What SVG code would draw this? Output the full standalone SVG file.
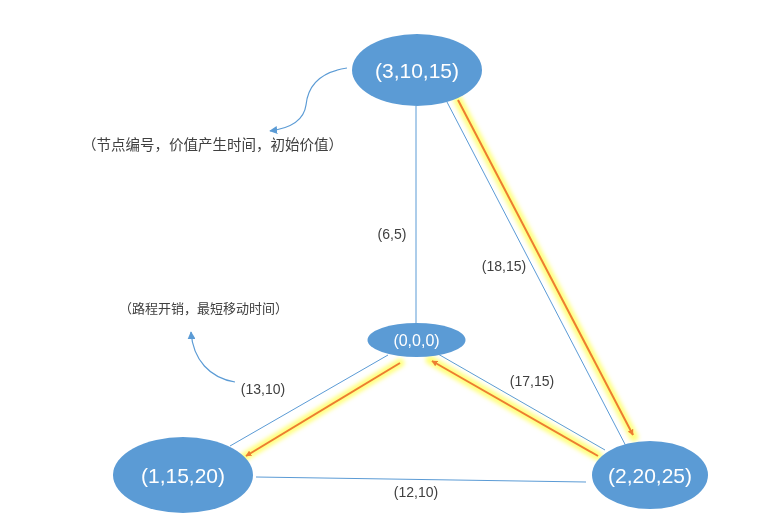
<svg xmlns="http://www.w3.org/2000/svg" width="758" height="526" viewBox="0 0 758 526">
<style>
.node{fill:#5b9bd5}
.nt{fill:#ffffff;font-family:"Liberation Sans",Arial,sans-serif;text-anchor:middle;dominant-baseline:central}
.edge{stroke:#5b9bd5;stroke-width:1;fill:none}
.glow{stroke:#ffff66;stroke-width:9;fill:none;stroke-linecap:round;opacity:0.85}
.path{stroke:#ed7d31;stroke-width:2;fill:none}
.lbl{fill:#404040;font-family:"Liberation Sans",Arial,sans-serif;font-size:14px;text-anchor:middle;dominant-baseline:central}
.note{fill:#404040;font-family:"Liberation Sans","Noto Sans CJK SC",sans-serif;dominant-baseline:central}
.callout{stroke:#5b9bd5;stroke-width:1.2;fill:none}
</style>
<defs>
<filter id="blur" x="-20%" y="-20%" width="140%" height="140%"><feGaussianBlur stdDeviation="2"/></filter>
<marker id="oa" viewBox="0 0 10 10" refX="9" refY="5" markerWidth="6" markerHeight="6" orient="auto" markerUnits="userSpaceOnUse"><path d="M0,0 L10,5 L0,10 z" fill="#ed7d31"/></marker>
<marker id="ba" viewBox="0 0 10 10" refX="9" refY="5" markerWidth="8" markerHeight="8" orient="auto" markerUnits="userSpaceOnUse"><path d="M0,0 L10,5 L0,10 z" fill="#5b9bd5"/></marker>
</defs>
<g id="connectors">
<line class="edge" x1="416" y1="106" x2="416" y2="323"/>
<line class="edge" x1="447" y1="102" x2="628" y2="450"/>
<line class="edge" x1="438" y1="354" x2="605" y2="450"/>
<line class="edge" x1="388" y1="355" x2="230" y2="446"/>
<line class="edge" x1="256" y1="477" x2="586" y2="482"/>
<g filter="url(#blur)">
<line class="glow" x1="458" y1="100" x2="634" y2="437"/>
<line class="glow" x1="598" y1="456" x2="430" y2="360"/>
<line class="glow" x1="400" y1="363" x2="244" y2="457"/>
</g>
<line class="path" x1="458" y1="100" x2="633" y2="435" marker-end="url(#oa)"/>
<line class="path" x1="598" y1="456" x2="432" y2="361" marker-end="url(#oa)"/>
<line class="path" x1="400" y1="363" x2="246" y2="456" marker-end="url(#oa)"/>
<path class="callout" d="M347,68 C320,72 308,85 306,105 C304,120 292,128 270,131" marker-end="url(#ba)"/>
<path class="callout" d="M235,382 C210,378 193,360 191,332" marker-end="url(#ba)"/>
<text class="lbl" x="392" y="234">(6,5)</text>
<text class="lbl" x="504" y="266">(18,15)</text>
<text class="lbl" x="532" y="381">(17,15)</text>
<text class="lbl" x="263" y="389">(13,10)</text>
<text class="lbl" x="416" y="492">(12,10)</text>
</g>
<g id="note1"><text class="note" x="82" y="145" font-size="14.5">（节点编号，价值产生时间，初始价值）</text></g>
<g id="note2"><text class="note" x="119" y="308" font-size="13">（路程开销，最短移动时间）</text></g>
<g id="n3"><ellipse class="node" cx="417" cy="70" rx="65" ry="36"/><text class="nt" x="417" y="70" font-size="21">(3,10,15)</text></g>
<g id="n0"><ellipse class="node" cx="416.5" cy="340" rx="49" ry="17"/><text class="nt" x="416.5" y="340" font-size="16">(0,0,0)</text></g>
<g id="n1"><ellipse class="node" cx="183" cy="475" rx="70" ry="38"/><text class="nt" x="183" y="475" font-size="21">(1,15,20)</text></g>
<g id="n2"><ellipse class="node" cx="650" cy="475" rx="58" ry="34"/><text class="nt" x="650" y="475" font-size="21">(2,20,25)</text></g>
</svg>
